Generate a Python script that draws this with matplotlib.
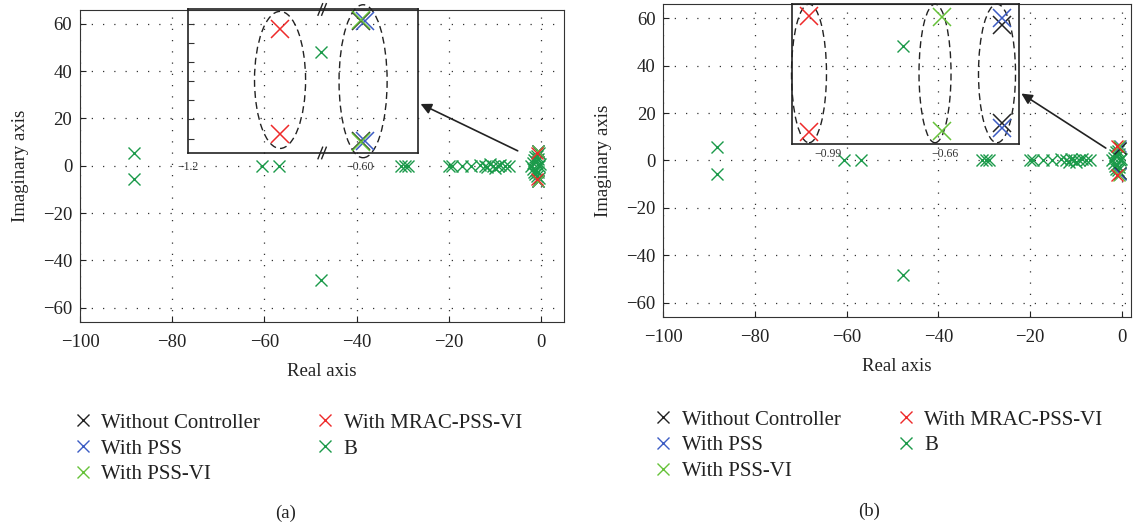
import matplotlib
matplotlib.use('Agg')
import matplotlib.pyplot as plt
from matplotlib.lines import Line2D
from matplotlib.patches import Ellipse

plt.rcParams['font.family'] = ['Liberation Serif', 'DejaVu Serif']

# series labels and colours
labels = ['Without Controller', 'With PSS', 'With PSS-VI', 'With MRAC-PSS-VI', 'B']
colors = ['#222222', '#3c5cc4', '#66c23a', '#ee2a2a', '#1b9a4a']

# eigenvalues of B (same in both panels)
b_re = [-88.3, -88.3, -60.5, -56.9, -47.7, -47.7, -30.4, -29.6, -28.9,
        -20.0, -19.3, -17.2, -15.2, -13.3, -12.2, -11.6, -11.0, -10.5,
        -10.0, -9.4, -8.8, -7.8, -7.0, -2.2, -1.8, -1.8, -1.5, -1.5,
        -1.2, -1.2, -1.0, -1.0, -0.8, -0.8, -0.6, -0.6, -0.4, -0.4, -0.2, -0.5]
b_im = [5.5, -5.5, 0, 0, 48.2, -48.2, 0, 0, 0,
        0, 0, 0, 0, 0.5, 0, -0.5, 0.8, 0,
        -0.8, 0, 0.5, 0, 0, 0, 1.2, -1.2, 2.5, -2.5,
        3.5, -3.5, 1.8, -1.8, 4.2, -4.2, 2.8, -2.8, 5.2, -5.2, 0.6, 0]

# panel (a) dominant modes
wc_a_re, wc_a_im = [-0.60, -0.60], [6.3, -6.3]
pss_a_re, pss_a_im = [-0.585, -0.585], [6.25, -6.25]
vi_a_re, vi_a_im = [-0.60, -0.60], [6.35, -6.35]
mrac_a_re, mrac_a_im = [-0.88, -0.88], [5.5, -5.5]

# panel (b) dominant modes
wc_b_re, wc_b_im = [-0.50, -0.50], [5.25, -5.25]
pss_b_re, pss_b_im = [-0.50, -0.50], [6.0, -5.8]
vi_b_re, vi_b_im = [-0.67, -0.67], [6.1, -6.1]
mrac_b_re, mrac_b_im = [-1.044, -1.044], [6.2, -6.2]

xticks = [-100, -80, -60, -40, -20, 0]
yticks = [-60, -40, -20, 0, 20, 40, 60]

fig = plt.figure(figsize=(11.41, 5.23), dpi=100)


def main_axes(rect, xlim, series):
    ax = fig.add_axes(rect)
    ax.plot(b_re, b_im, 'x', color=colors[4], ms=9, mew=1.0, zorder=3)
    for (re, im), c in zip(series, colors[:4]):
        ax.plot(re, im, 'x', color=c, ms=9, mew=1.0, zorder=4)
    ax.set_xlim(xlim)
    ax.set_ylim(-66, 66)
    ax.set_xticks(xticks)
    ax.set_yticks(yticks)
    ax.grid(True, color='#333333', linestyle=(0, (1, 8)), linewidth=0.9)
    ax.tick_params(direction='in', length=4, labelsize=13.5, colors='#222222')
    ax.tick_params(axis='x', pad=8.5)
    ax.tick_params(axis='y', pad=5.5)
    ax.set_xlabel('Real axis', fontsize=13.5, color='#222222', labelpad=9)
    ax.set_ylabel('Imaginary axis', fontsize=13.5, color='#222222', labelpad=10)
    for s in ax.spines.values():
        s.set_color('#333333')
    return ax


def inset_axes(rect, xlim, series, ticks, ticklabels):
    axi = fig.add_axes(rect)
    axi.set_facecolor('none')
    for (re, im), c in zip(series, colors[:4]):
        axi.plot(re, im, 'x', color=c, ms=13, mew=1.1, clip_on=False)
    axi.set_xlim(xlim)
    axi.set_ylim(-7.5, 7.5)
    axi.set_xticks(ticks)
    axi.set_xticklabels(ticklabels)
    axi.tick_params(axis='x', length=0, labelsize=8.5, colors='#333333', pad=6)
    for s in axi.spines.values():
        s.set_color('#222222')
        s.set_linewidth(1.2)
    return axi


# ---- panel (a)
ax1 = main_axes([0.0701, 0.3843, 0.4242, 0.5975], (-100, 5),
                [(wc_a_re, wc_a_im), (pss_a_re, pss_a_im),
                 (vi_a_re, vi_a_im), (mrac_a_re, mrac_a_im)])
in1 = inset_axes([0.1648, 0.7075, 0.2016, 0.2744], (-1.2, -0.4),
                 [(wc_a_re, wc_a_im), (pss_a_re, pss_a_im),
                  (vi_a_re, vi_a_im), (mrac_a_re, mrac_a_im)],
                 [-1.2, -0.60], ['\u22121.2', '\u22120.60'])
in1.set_yticks([-6, -4, -2, 0, 2, 4, 6])
in1.set_yticklabels([])
in1.tick_params(axis='y', direction='in', length=4, colors='#333333')
for e in [(0.40, 0.509, 0.222, 0.955), (0.761, 0.5, 0.209, 1.066)]:
    in1.add_patch(Ellipse(e[:2], e[2], e[3], transform=in1.transAxes, fill=False,
                          ls=(0, (5, 3)), lw=1.0, color='#222222', clip_on=False))
# axis-break marks
for yb in (0.0, 1.0):
    for dx in (-0.008, 0.008):
        in1.plot([0.583 + dx - 0.01, 0.583 + dx + 0.01], [yb - 0.04, yb + 0.04],
                 transform=in1.transAxes, color='#222222', lw=1.0, clip_on=False)
ax1.annotate('', xy=(1.0, 0.35), xycoords=in1.transAxes, xytext=(-4.5, 5.8),
             textcoords='data',
             arrowprops=dict(arrowstyle='-|>', color='#222222', lw=1.2,
                             mutation_scale=16))

# ---- panel (b)
ax2 = main_axes([0.5811, 0.3939, 0.4102, 0.5985], (-100, 2),
                [(wc_b_re, wc_b_im), (pss_b_re, pss_b_im),
                 (vi_b_re, vi_b_im), (mrac_b_re, mrac_b_im)])
in2 = inset_axes([0.6941, 0.7247, 0.1990, 0.2677], (-1.092, -0.452),
                 [(wc_b_re, wc_b_im), (pss_b_re, pss_b_im),
                  (vi_b_re, vi_b_im), (mrac_b_re, mrac_b_im)],
                 [-0.99, -0.66], ['\u22120.99', '\u22120.66'])
in2.set_yticks([])
in2.tick_params(axis='x', pad=3)
for e in [(0.075, 0.504, 0.154, 0.99), (0.63, 0.504, 0.141, 0.99),
          (0.903, 0.504, 0.163, 0.99)]:
    in2.add_patch(Ellipse(e[:2], e[2], e[3], transform=in2.transAxes, fill=False,
                          ls=(0, (5, 3)), lw=1.0, color='#222222', clip_on=False))
ax2.annotate('', xy=(1.0, 0.371), xycoords=in2.transAxes, xytext=(-3.0, 4.6),
             textcoords='data',
             arrowprops=dict(arrowstyle='-|>', color='#222222', lw=1.2,
                             mutation_scale=16))

# ---- legends
handles = [Line2D([], [], ls='none', marker='x', ms=9, mew=1.0, color=c)
           for c in colors]
for x0, y0 in [(0.056, 0.226), (0.565, 0.232)]:
    fig.legend(handles, labels, loc='upper left', bbox_to_anchor=(x0, y0),
               ncol=2, frameon=False, fontsize=15, handlelength=1.0,
               handletextpad=0.4, columnspacing=2.6, labelspacing=0.3,
               borderaxespad=0, labelcolor='#222222')

fig.text(0.250, 0.01, '(a)', fontsize=13.5, ha='center', color='#222222')
fig.text(0.762, 0.014, '(b)', fontsize=13.5, ha='center', color='#222222')

fig.savefig('out.png', dpi=100)
